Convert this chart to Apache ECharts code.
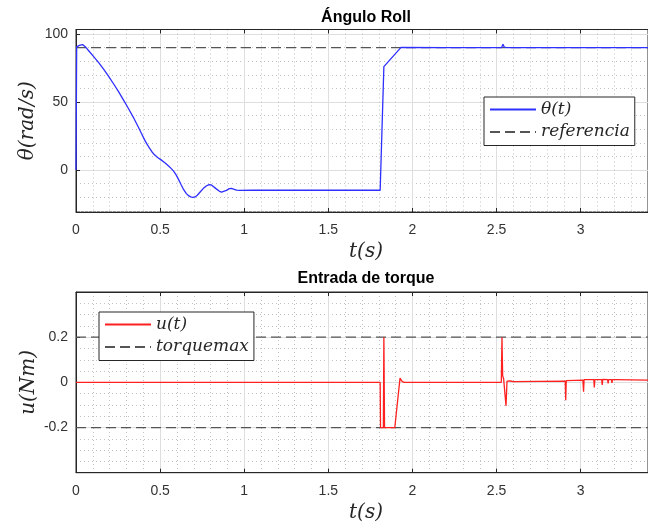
<!DOCTYPE html>
<html>
<head>
<meta charset="utf-8">
<script src="https://cdn.jsdelivr.net/npm/echarts@6/dist/echarts.min.js"></script>
<style>
  html, body { margin: 0; padding: 0; background: #fff; }
  #chart { width: 648px; height: 527px; }
</style>
</head>
<body>
<div id="chart"></div>
<script>
// ángulo roll: tiempo (s) y valor
const thetaT = [0, 0.004, 0.02, 0.039, 0.06, 0.078, 0.105, 0.136, 0.165, 0.194, 0.222, 0.252, 0.28, 0.31, 0.34, 0.368, 0.39, 0.407, 0.422, 0.436, 0.45, 0.465, 0.485, 0.504, 0.53, 0.552, 0.568, 0.581, 0.596, 0.61, 0.625, 0.64, 0.655, 0.669, 0.682, 0.694, 0.708, 0.721, 0.738, 0.756, 0.774, 0.791, 0.803, 0.814, 0.834, 0.853, 0.865, 0.876, 0.894, 0.911, 0.925, 0.94, 0.955, 0.969, 1.05, 1.4, 1.808, 1.83, 1.932, 2.2, 2.53, 2.538, 2.546, 2.56, 3.0, 3.4]
const thetaV = [0, 90.5, 91.6, 92.2, 90.0, 87.3, 83.3, 78.7, 74.0, 68.9, 63.6, 57.8, 51.9, 45.6, 38.9, 32.1, 26.6, 22.3, 19.0, 16.2, 13.6, 11.3, 9.2, 7.6, 5.2, 2.7, 0.8, -1.0, -3.8, -7.1, -10.9, -14.5, -17.2, -18.9, -19.8, -20.1, -19.8, -18.6, -16.2, -13.7, -11.8, -10.8, -10.9, -11.8, -13.9, -15.7, -16.2, -16.2, -15.0, -13.7, -13.6, -14.2, -14.8, -15.0, -14.9, -14.9, -14.9, 76, 90.2, 90, 90, 92.4, 90.3, 90, 90, 90]
const refT = [0, 3.4]
const refV = [90, 90]

// entrada de torque
const uT = [0, 1.808, 1.81, 1.827, 1.83, 1.834, 1.895, 1.926, 1.938, 1.95, 2.528, 2.532, 2.536, 2.542, 2.55, 2.556, 2.562, 2.57, 2.58, 2.6, 2.908, 2.911, 2.914, 3.013, 3.017, 3.02, 3.078, 3.081, 3.084, 3.125, 3.128, 3.131, 3.16, 3.163, 3.166, 3.183, 3.186, 3.189, 3.205, 3.208, 3.211, 3.4]
const uV = [0, 0, -0.2, -0.2, 0.2, -0.2, -0.2, 0.019, 0.004, 0, 0, 0.2, 0.03, 0.015, 0.02, -0.104, 0.005, 0, 0.006, 0.003, 0.005, -0.079, 0.008, 0.01, -0.042, 0.012, 0.012, -0.023, 0.012, 0.012, -0.012, 0.013, 0.012, -0.005, 0.012, 0.012, -0.002, 0.012, 0.012, 0.004, 0.012, 0.01]
const torqueT = [0, 3.4]
const torqueMax = [0.2, 0.2]
const torqueMin = [-0.2, -0.2]

// ejes
const tMax = 3.4
const thetaRange = [-30.9, 103.3]
const uRange = [-0.4, 0.4]

const pairs = (xs, ys) => xs.map((x, i) => [x, ys[i]])

const sans = 'Liberation Sans, Arial, sans-serif'
const serif = 'DejaVu Serif, serif'
const dark = '#262626'

let myCharts = echarts.init(document.getElementById('chart'))

// eje x común (abajo) y su copia arriba solo con marcas
function xBottom(gridIndex) {
  return {
    type: 'value',
    gridIndex,
    min: 0,
    max: tMax,
    splitNumber: 7,
    axisLine: { show: true, onZero: false, lineStyle: { color: dark } },
    axisTick: { show: true, inside: true, length: 4, lineStyle: { color: dark } },
    axisLabel: { margin: 11, fontSize: 14, color: '#333', fontFamily: sans, showMaxLabel: false },
    splitLine: { show: true, lineStyle: { color: '#dedede' } },
    minorTick: { show: false, splitNumber: 5 },
    minorSplitLine: { show: true, lineStyle: { color: '#c2c2c2', type: [1, 3] } },
    name: 't(s)',
    nameLocation: 'middle',
    nameGap: 30,
    nameMoveOverlap: false,
    nameTextStyle: { fontFamily: serif, fontStyle: 'italic', fontSize: 20, color: dark, padding: [0, 0, 0, 8] },
  }
}
function xTop(gridIndex) {
  return {
    type: 'value',
    gridIndex,
    position: 'top',
    min: 0,
    max: tMax,
    splitNumber: 7,
    axisLine: { show: true, onZero: false, lineStyle: { color: dark } },
    axisTick: { show: true, inside: true, length: 4, lineStyle: { color: dark } },
    axisLabel: { show: false },
    splitLine: { show: false },
  }
}

function legendBox(names, left, top) {
  return {
    data: names,
    orient: 'vertical',
    left,
    top,
    padding: [4, 5, 5, 5],
    itemWidth: 46,
    itemHeight: 12,
    itemGap: 5.5,
    selectedMode: false,
    borderColor: dark,
    borderWidth: 1,
    borderRadius: 0,
    backgroundColor: '#fff',
    itemStyle: { opacity: 0 },
    textStyle: { fontFamily: serif, fontStyle: 'italic', fontSize: 17, color: dark },
  }
}

myCharts.setOption({
  animation: false,
  backgroundColor: '#fff',
  title: [
    {
      text: 'Ángulo Roll',
      left: 366,
      top: 10,
      padding: 0,
      textAlign: 'center',
      textStyle: { fontFamily: sans, fontWeight: 'bold', fontSize: 16, color: '#000' },
    },
    {
      text: 'Entrada de torque',
      left: 366,
      top: 271,
      padding: 0,
      textAlign: 'center',
      textStyle: { fontFamily: sans, fontWeight: 'bold', fontSize: 16, color: '#000' },
    },
  ],
  legend: [
    legendBox(['θ(t)', 'referencia'], 484, 97),
    legendBox(['u(t)', 'torquemax'], 99, 312),
  ],
  grid: [
    { left: 76, top: 29.5, width: 585.5, height: 182.5, show: true, borderColor: dark, borderWidth: 1, backgroundColor: 'transparent' },
    { left: 76, top: 292, width: 585.5, height: 180.7, show: true, borderColor: dark, borderWidth: 1, backgroundColor: 'transparent' },
  ],
  xAxis: [xBottom(0), xTop(0), xBottom(1), xTop(1)],
  yAxis: [
    {
      type: 'value',
      gridIndex: 0,
      min: thetaRange[0],
      max: thetaRange[1],
      splitNumber: 3,
      axisLine: { show: true, lineStyle: { color: dark } },
      axisTick: { show: true, inside: true, length: 4, lineStyle: { color: dark } },
      axisLabel: { margin: 8, fontSize: 14, color: '#333', fontFamily: sans, showMinLabel: false, showMaxLabel: false },
      splitLine: { show: true, lineStyle: { color: '#dedede' } },
      minorTick: { show: false, splitNumber: 5 },
      minorSplitLine: { show: true, lineStyle: { color: '#c2c2c2', type: [1, 3] } },
      name: 'θ(rad/s)',
      nameLocation: 'middle',
      nameGap: 38,
      nameMoveOverlap: false,
      nameTextStyle: { fontFamily: serif, fontStyle: 'italic', fontSize: 20, color: dark },
    },
    {
      type: 'value',
      gridIndex: 1,
      min: uRange[0],
      max: uRange[1],
      interval: 0.2,
      axisLine: { show: true, lineStyle: { color: dark } },
      axisTick: { show: true, inside: true, length: 4, lineStyle: { color: dark } },
      axisLabel: { margin: 8, fontSize: 14, color: '#333', fontFamily: sans, showMinLabel: false, showMaxLabel: false },
      splitLine: { show: true, lineStyle: { color: '#dedede' } },
      minorTick: { show: false, splitNumber: 4 },
      minorSplitLine: { show: true, lineStyle: { color: '#c2c2c2', type: [1, 3] } },
      name: 'u(Nm)',
      nameLocation: 'middle',
      nameGap: 37,
      nameMoveOverlap: false,
      nameTextStyle: { fontFamily: serif, fontStyle: 'italic', fontSize: 20, color: dark },
    },
  ],
  series: [
    {
      name: 'θ(t)',
      type: 'line',
      xAxisIndex: 0,
      yAxisIndex: 0,
      data: pairs(thetaT, thetaV),
      symbol: 'none',
      lineStyle: { color: '#2f2fff', width: 1.3 },
      itemStyle: { color: '#2f2fff' },
      z: 3,
    },
    {
      name: 'referencia',
      type: 'line',
      xAxisIndex: 0,
      yAxisIndex: 0,
      data: pairs(refT, refV),
      symbol: 'none',
      lineStyle: { color: '#555', width: 1.2, type: [10, 5] },
      itemStyle: { color: '#555' },
      z: 2,
    },
    {
      name: 'u(t)',
      type: 'line',
      xAxisIndex: 2,
      yAxisIndex: 1,
      data: pairs(uT, uV),
      symbol: 'none',
      lineStyle: { color: '#ff2020', width: 1.3 },
      itemStyle: { color: '#ff2020' },
      z: 3,
    },
    {
      name: 'torquemax',
      type: 'line',
      xAxisIndex: 2,
      yAxisIndex: 1,
      data: pairs(torqueT, torqueMax),
      symbol: 'none',
      lineStyle: { color: '#555', width: 1.2, type: [10, 5] },
      itemStyle: { color: '#555' },
      z: 2,
    },
    {
      name: 'torquemax',
      type: 'line',
      xAxisIndex: 2,
      yAxisIndex: 1,
      data: pairs(torqueT, torqueMin),
      symbol: 'none',
      lineStyle: { color: '#555', width: 1.2, type: [10, 5] },
      itemStyle: { color: '#555' },
      z: 2,
    },
  ],
})
</script>
</body>
</html>
